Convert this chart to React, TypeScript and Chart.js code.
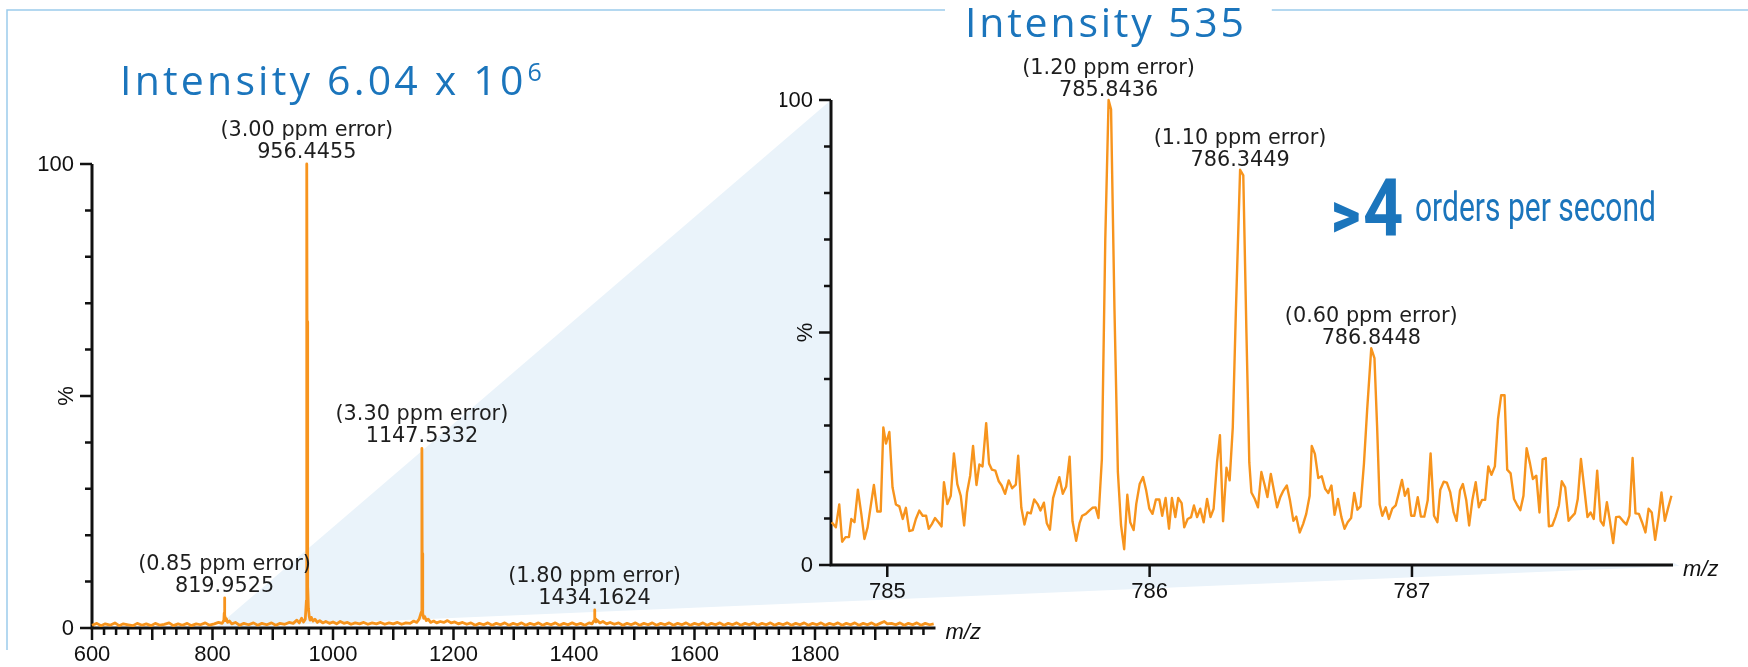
import React, { useEffect, useRef } from "react";
import { Chart, registerables } from "chart.js";

Chart.register(...registerables);

// ---- Full-scan spectrum: m/z and relative intensity (%) ----
const fullMz = [
  600, 608, 615, 622, 630, 638, 645, 652, 660, 668, 675, 683, 690, 698, 705, 713, 720, 728, 735, 743,
  750, 758, 765, 773, 780, 788, 795, 803, 810, 816, 818.9, 819.45, 819.9525, 820.45, 820.95, 821.6, 823, 825, 828, 832,
  838, 845, 852, 860, 868, 875, 882, 890, 898, 905, 912, 920, 927, 934, 940, 944, 948, 951, 954, 955.9,
  956.4455, 956.95, 957.45, 957.95, 958.5, 959.2, 960.5, 962, 964, 967, 970, 974, 978, 983, 988, 994, 1000, 1006, 1012, 1018,
  1024, 1030, 1037, 1044, 1051, 1058, 1065, 1072, 1079, 1086, 1093, 1100, 1107, 1114, 1121, 1128, 1134, 1139, 1143, 1146.5,
  1147.5332, 1148.03, 1148.54, 1149.3, 1150.5, 1152, 1155, 1158, 1162, 1167, 1172, 1178, 1184, 1190, 1196, 1202, 1208, 1215, 1222, 1229,
  1236, 1243, 1250, 1257, 1264, 1271, 1278, 1285, 1292, 1299, 1306, 1313, 1320, 1327, 1334, 1341, 1348, 1355, 1362, 1369,
  1376, 1383, 1390, 1397, 1404, 1411, 1418, 1425, 1430, 1433.3, 1434.1624, 1434.7, 1435.3, 1436.5, 1439, 1443, 1448, 1454, 1460, 1467,
  1474, 1481, 1488, 1495, 1502, 1509, 1516, 1523, 1530, 1537, 1544, 1551, 1558, 1565, 1572, 1579, 1586, 1593, 1600, 1607,
  1614, 1621, 1628, 1635, 1642, 1649, 1656, 1663, 1670, 1677, 1684, 1691, 1698, 1705, 1712, 1719, 1726, 1733, 1740, 1747,
  1754, 1761, 1768, 1775, 1782, 1789, 1796, 1803, 1810, 1817, 1824, 1831, 1838, 1845, 1852, 1859, 1866, 1873, 1880, 1887,
  1894, 1901, 1908, 1915, 1920, 1927, 1934, 1941, 1948, 1955, 1962, 1969, 1976, 1983, 1990, 1997,
];
const fullIntensity = [
  0.6, 1.0, 0.5, 0.9, 0.6, 1.1, 0.5, 0.9, 0.7, 0.5, 1.0, 0.6, 0.9, 0.5, 1.0, 0.6, 0.8, 1.1, 0.5, 0.9,
  0.6, 1.0, 0.5, 0.9, 0.7, 1.1, 0.6, 0.9, 1.2, 1.0, 1.7, 3.2, 6.5, 2.8, 2.2, 1.6, 2.0, 1.2, 1.5, 0.9,
  1.2, 0.6, 1.0, 0.7, 1.1, 0.6, 1.0, 0.7, 1.1, 0.6, 1.0, 0.8, 1.2, 1.0, 1.7, 1.1, 2.1, 1.3, 1.9, 6.0,
  100, 66, 44, 22, 9, 4.2, 2.5, 1.7, 2.3, 1.5, 1.9, 1.2, 1.6, 1.1, 1.4, 1.0, 1.3, 0.9, 1.4, 1.0,
  1.2, 0.8, 1.1, 0.9, 1.2, 0.8, 1.1, 0.9, 1.2, 0.8, 1.1, 0.9, 1.2, 0.8, 1.1, 1.0, 1.5, 1.2, 1.9, 3.4,
  38.7, 16.0, 6.5, 3.2, 2.1, 2.5, 1.6, 1.9, 1.2, 1.5, 1.1, 1.4, 1.2, 1.6, 1.1, 1.3, 0.9, 1.2, 0.8, 1.1,
  0.6, 1.0, 0.7, 1.1, 0.6, 1.0, 0.7, 1.1, 0.6, 1.0, 0.7, 1.1, 0.6, 1.0, 0.7, 1.1, 0.6, 1.0, 0.7, 1.1,
  0.6, 1.0, 0.7, 1.1, 0.7, 1.0, 0.6, 1.1, 0.9, 1.6, 3.9, 2.3, 1.9, 1.3, 1.6, 1.1, 1.4, 0.9, 1.2, 0.8,
  1.1, 0.6, 1.0, 0.7, 1.1, 0.6, 1.0, 0.7, 1.1, 0.6, 1.0, 0.7, 1.1, 0.6, 1.0, 0.7, 1.1, 0.6, 1.0, 0.7,
  1.1, 0.6, 1.0, 0.7, 1.1, 0.6, 1.0, 0.7, 1.1, 0.6, 1.0, 0.7, 1.1, 0.6, 1.0, 0.7, 1.1, 0.6, 1.0, 0.7,
  1.1, 0.6, 1.0, 0.7, 1.1, 0.6, 1.0, 0.7, 1.1, 0.6, 1.0, 0.7, 1.1, 0.6, 1.0, 0.7, 1.1, 0.6, 1.0, 0.7,
  1.1, 0.6, 1.0, 1.4, 0.9, 1.0, 0.7, 1.1, 0.6, 1.0, 0.7, 1.1, 0.6, 1.0, 0.7, 0.9,
];

// ---- Zoomed spectrum around m/z 785-788 ----
const zoomMz = [
  784.788, 784.804, 784.817, 784.828, 784.841, 784.854, 784.863, 784.875, 784.888, 784.901,
  784.913, 784.925, 784.938, 784.949, 784.962, 784.975, 784.985, 784.995, 785.008, 785.02,
  785.033, 785.046, 785.059, 785.071, 785.084, 785.097, 785.109, 785.122, 785.135, 785.148,
  785.158, 785.17, 785.182, 785.195, 785.207, 785.216, 785.229, 785.242, 785.254, 785.267,
  785.28, 785.293, 785.304, 785.316, 785.327, 785.34, 785.351, 785.363, 785.377, 785.388,
  785.399, 785.412, 785.425, 785.436, 785.449, 785.463, 785.476, 785.49, 785.499, 785.511,
  785.523, 785.534, 785.547, 785.56, 785.573, 785.584, 785.597, 785.608, 785.62, 785.632,
  785.645, 785.656, 785.669, 785.682, 785.695, 785.706, 785.72, 785.733, 785.743, 785.757,
  785.77, 785.782, 785.794, 785.805, 785.818, 785.831, 785.8436, 785.853, 785.866, 785.879,
  785.891, 785.903, 785.915, 785.926, 785.939, 785.949, 785.962, 785.975, 785.987, 785.999,
  786.011, 786.024, 786.037, 786.048, 786.061, 786.074, 786.085, 786.098, 786.109, 786.122,
  786.132, 786.145, 786.158, 786.169, 786.181, 786.193, 786.206, 786.219, 786.232, 786.244,
  786.257, 786.268, 786.28, 786.293, 786.305, 786.317, 786.329, 786.3449, 786.357, 786.369,
  786.38, 786.388, 786.401, 786.413, 786.426, 786.439, 786.449, 786.462, 786.474, 786.486,
  786.498, 786.51, 786.523, 786.535, 786.548, 786.559, 786.572, 786.585, 786.597, 786.61,
  786.618, 786.63, 786.643, 786.656, 786.669, 786.681, 786.693, 786.705, 786.718, 786.731,
  786.743, 786.755, 786.768, 786.78, 786.792, 786.804, 786.817, 786.829, 786.8448, 786.857,
  786.867, 786.877, 786.887, 786.9, 786.912, 786.925, 786.938, 786.949, 786.962, 786.973,
  786.985, 786.997, 787.009, 787.022, 787.034, 787.047, 787.06, 787.071, 787.084, 787.097,
  787.108, 787.121, 787.133, 787.146, 787.159, 787.17, 787.183, 787.194, 787.207, 787.218,
  787.23, 787.243, 787.255, 787.267, 787.279, 787.291, 787.303, 787.316, 787.328, 787.34,
  787.353, 787.363, 787.376, 787.389, 787.4, 787.413, 787.425, 787.437, 787.45, 787.461,
  787.474, 787.486, 787.498, 787.51, 787.522, 787.535, 787.547, 787.56, 787.571, 787.584,
  787.597, 787.608, 787.621, 787.632, 787.644, 787.657, 787.669, 787.681, 787.693, 787.706,
  787.719, 787.73, 787.743, 787.754, 787.767, 787.778, 787.791, 787.804, 787.817, 787.829,
  787.841, 787.852, 787.865, 787.877, 787.89, 787.902, 787.914, 787.927, 787.94, 787.951,
  787.964, 787.977, 787.989,
];
const zoomIntensity = [
  9.2, 8.1, 13.0, 5.0, 6.0, 6.0, 9.9, 9.2, 16.2, 11.0,
  5.6, 8.1, 13.1, 17.2, 11.5, 11.5, 29.6, 26.1, 28.6, 16.7,
  13.0, 12.6, 9.9, 12.3, 7.3, 7.5, 9.9, 11.7, 10.6, 10.6,
  7.8, 8.8, 10.1, 9.2, 8.3, 17.8, 13.1, 14.9, 24.0, 17.4,
  14.9, 8.5, 15.6, 19.2, 25.6, 17.2, 21.6, 21.2, 30.5, 21.8,
  20.5, 20.3, 18.0, 17.1, 15.3, 18.2, 16.5, 17.3, 23.5, 12.3,
  8.7, 11.3, 11.1, 14.1, 13.1, 11.7, 13.4, 9.0, 7.6, 14.4,
  16.9, 18.9, 15.3, 16.9, 23.3, 9.4, 5.2, 9.0, 10.6, 11.0,
  11.7, 12.3, 12.4, 10.1, 22.8, 70, 100, 98, 55, 20,
  8.6, 3.4, 15.1, 9.2, 7.5, 13.1, 17.4, 18.9, 16.0, 12.1,
  11.0, 14.1, 14.1, 10.6, 14.4, 7.8, 14.4, 10.3, 14.4, 13.3,
  8.1, 9.9, 10.3, 12.8, 10.3, 12.1, 9.2, 14.2, 10.3, 12.1,
  22.1, 27.9, 9.4, 20.9, 18.2, 29.6, 55, 85, 83.8, 50,
  22, 15.6, 14.2, 12.4, 20.0, 17.1, 14.6, 19.6, 16.0, 12.4,
  14.6, 16.0, 17.1, 13.9, 9.5, 10.4, 7.0, 8.8, 11.0, 14.9,
  25.6, 23.9, 18.7, 19.1, 16.4, 15.5, 17.1, 10.8, 14.2, 10.3,
  7.8, 9.2, 10.1, 15.5, 11.9, 12.6, 21.8, 33.2, 46.6, 44.5,
  30, 13, 10.6, 12.4, 9.9, 12.1, 12.8, 15.3, 18.3, 14.9,
  16.4, 10.6, 10.6, 14.6, 10.4, 10.4, 13.9, 24.0, 10.6, 9.2,
  16.2, 17.9, 17.7, 15.6, 11.3, 9.5, 16.0, 17.4, 13.9, 8.5,
  13.9, 17.8, 12.4, 14.0, 14.0, 21.2, 19.4, 21.2, 31.4, 36.5,
  36.5, 20.5, 19.7, 14.2, 13.0, 11.8, 14.9, 25.1, 21.8, 18.5,
  19.2, 11.3, 22.7, 23.0, 8.3, 8.5, 10.3, 12.8, 18.0, 16.7,
  9.5, 10.3, 11.1, 14.2, 22.8, 16.4, 10.3, 11.3, 9.9, 20.3,
  9.5, 8.5, 13.5, 9.7, 4.7, 10.3, 10.4, 9.5, 8.7, 10.6,
  23.0, 11.1, 11.0, 9.2, 7.0, 12.1, 11.3, 5.4, 10.3, 15.6,
  9.5, 12.4, 14.9,
];

// ---- Annotated peaks ----
const fullPeakMz = [819.9525, 956.4455, 1147.5332, 1434.1624];
const fullPeakIntensity = [6.5, 100, 38.7, 3.9];
const fullPeakError = ["0.85", "3.00", "3.30", "1.80"];

const zoomPeakMz = [785.8436, 786.3449, 786.8448];
const zoomPeakIntensity = [100, 85, 46.6];
const zoomPeakError = ["1.20", "1.10", "0.60"];

// ---- Axis ticks ----
const fullXTickLabels = [600, 800, 1000, 1200, 1400, 1600, 1800];
const zoomXTickLabels = [785, 786, 787];
const yTickLabels = [0, 100];

const ORANGE = "#F7941D";
const BLUE = "#1B75BC";
const FRAME = "#9CCBEB";
const WEDGE = "#EAF3FA";
const INK = "#111111";

const LEFT_CANVAS_X = 0;
const RIGHT_CANVAS_X = 780;

const TICK_FONT = "22px 'Liberation Sans', Arial, sans-serif";
const AXIS_TITLE_FONT = "italic 22px 'Liberation Sans', Arial, sans-serif";
const PEAK_FONT = "20.8px 'DejaVu Sans', Verdana, sans-serif";

type AxesOpts = {
  xMinorStep: number | null;
  xMajorStep: number | null;
  xMin: number;
  xMax: number;
  xTickLabels: number[];
  peakMz: number[];
  peakIntensity: number[];
  peakError: string[];
  peakGap: number;
  plotFill: string | null;
};

// Draws the axes, ticks and peak annotations on top of the hidden Chart.js scales.
const spectrumAxes = {
  id: "spectrumAxes",
  beforeDraw(chart: any, _args: any, opts: AxesOpts) {
    if (!opts.plotFill) return;
    const { ctx, chartArea: a } = chart;
    ctx.save();
    ctx.fillStyle = opts.plotFill;
    ctx.fillRect(a.left, a.top, a.right - a.left, a.bottom - a.top);
    ctx.restore();
  },
  beforeDatasetsDraw(chart: any, _args: any, opts: AxesOpts) {
    const { ctx, chartArea: a } = chart;
    const xs = chart.scales.x;
    const ys = chart.scales.y;
    ctx.save();
    ctx.strokeStyle = INK;
    ctx.fillStyle = INK;
    ctx.lineCap = "butt";

    // axis lines
    ctx.lineWidth = 3;
    ctx.beginPath();
    ctx.moveTo(a.left, a.bottom + 1.5);
    ctx.lineTo(a.left, a.top);
    ctx.moveTo(a.left - 1.5, a.bottom);
    ctx.lineTo(a.right, a.bottom);
    ctx.stroke();

    // y ticks: minor every 10 %, long ones at 0, 50, 100
    ctx.lineWidth = 2.5;
    ctx.beginPath();
    for (let v = 0; v <= 100; v += 10) {
      const py = ys.getPixelForValue(v);
      const len = v % 50 === 0 ? 12 : 7;
      ctx.moveTo(a.left, py);
      ctx.lineTo(a.left - len, py);
    }
    ctx.stroke();

    ctx.font = TICK_FONT;
    ctx.textAlign = "right";
    ctx.textBaseline = "middle";
    yTickLabels.forEach((v) => {
      ctx.fillText(String(v), a.left - 18, ys.getPixelForValue(v) + 1);
    });

    // rotated % axis title beside the 50 % tick
    ctx.save();
    ctx.translate(a.left - 25, ys.getPixelForValue(50));
    ctx.rotate(-Math.PI / 2);
    ctx.textAlign = "center";
    ctx.textBaseline = "middle";
    ctx.fillText("%", 0, 0);
    ctx.restore();

    // x ticks
    ctx.beginPath();
    if (opts.xMinorStep && opts.xMajorStep) {
      const start = Math.ceil(opts.xMin / opts.xMinorStep) * opts.xMinorStep;
      for (let v = start; v < opts.xMax - 1e-9; v += opts.xMinorStep) {
        const px = xs.getPixelForValue(v);
        const major = Math.abs(v / opts.xMajorStep - Math.round(v / opts.xMajorStep)) < 1e-6;
        ctx.moveTo(px, a.bottom);
        ctx.lineTo(px, a.bottom + (major ? 12 : 7));
      }
    } else {
      opts.xTickLabels.forEach((v) => {
        const px = xs.getPixelForValue(v);
        ctx.moveTo(px, a.bottom);
        ctx.lineTo(px, a.bottom + 12);
      });
    }
    ctx.stroke();

    ctx.textAlign = "center";
    ctx.textBaseline = "top";
    opts.xTickLabels.forEach((v) => {
      ctx.fillText(String(v), xs.getPixelForValue(v), a.bottom + 16);
    });

    ctx.font = AXIS_TITLE_FONT;
    ctx.textAlign = "left";
    ctx.textBaseline = "middle";
    ctx.fillText("m/z", a.right + 10, a.bottom + 5);
    ctx.restore();
  },
  afterDatasetsDraw(chart: any, _args: any, opts: AxesOpts) {
    const { ctx } = chart;
    const xs = chart.scales.x;
    const ys = chart.scales.y;
    ctx.save();
    ctx.font = PEAK_FONT;
    ctx.fillStyle = "#1e1e1e";
    ctx.textAlign = "center";
    ctx.textBaseline = "alphabetic";
    opts.peakMz.forEach((mz, i) => {
      const px = xs.getPixelForValue(mz);
      const py = ys.getPixelForValue(opts.peakIntensity[i]) - opts.peakGap;
      ctx.fillText(mz.toFixed(4), px, py);
      ctx.fillText(`(${opts.peakError[i]} ppm error)`, px, py - 22);
    });
    ctx.restore();
  },
};

function spectrumConfig(
  mz: number[],
  intensity: number[],
  lineWidth: number,
  padding: { left: number; right: number; top: number; bottom: number },
  axes: AxesOpts
): any {
  return {
    type: "line",
    data: {
      datasets: [
        {
          data: mz.map((m, i) => ({ x: m, y: intensity[i] })),
          borderColor: ORANGE,
          borderWidth: lineWidth,
          borderJoinStyle: "round",
          pointRadius: 0,
          tension: 0,
          fill: false,
          clip: false,
        },
      ],
    },
    options: {
      responsive: false,
      animation: false,
      events: [],
      layout: { padding },
      scales: {
        x: { type: "linear", min: axes.xMin, max: axes.xMax, display: false },
        y: { type: "linear", min: 0, max: 100, display: false },
      },
      plugins: {
        legend: { display: false },
        tooltip: { enabled: false },
        spectrumAxes: axes,
      },
    },
    plugins: [spectrumAxes],
  };
}

// Zoom wedge anchor points (m/z on the full scan, m/z end on the zoom panel)
const WEDGE_FROM_MZ = 805;
const WEDGE_TO_MZ = 788.02;

// Background layer: zoom wedge and the figure frame.
function drawBackdrop(canvas: HTMLCanvasElement, left: any, right: any, gap: [number, number]) {
  const ctx = canvas.getContext("2d")!;
  ctx.clearRect(0, 0, canvas.width, canvas.height);

  const p1x = LEFT_CANVAS_X + left.scales.x.getPixelForValue(WEDGE_FROM_MZ);
  const p1y = left.scales.y.getPixelForValue(0);
  const p2x = RIGHT_CANVAS_X + right.chartArea.left;
  const p2y = right.chartArea.top;
  const p3x = RIGHT_CANVAS_X + right.scales.x.getPixelForValue(WEDGE_TO_MZ);
  const p3y = right.scales.y.getPixelForValue(0) + 1;
  ctx.fillStyle = WEDGE;
  ctx.beginPath();
  ctx.moveTo(p1x, p1y);
  ctx.lineTo(p2x, p2y);
  ctx.lineTo(p3x, p3y);
  ctx.closePath();
  ctx.fill();

  ctx.strokeStyle = FRAME;
  ctx.lineWidth = 1.5;
  ctx.beginPath();
  ctx.moveTo(7, 650);
  ctx.lineTo(7, 10);
  ctx.lineTo(gap[0], 10);
  ctx.moveTo(gap[1], 10);
  ctx.lineTo(canvas.width, 10);
  ctx.stroke();
}

// Top layer: panel titles and the acquisition-rate tagline. Returns the gap for the frame.
function drawTitles(canvas: HTMLCanvasElement): [number, number] {
  const ctx = canvas.getContext("2d")!;
  ctx.clearRect(0, 0, canvas.width, canvas.height);
  ctx.fillStyle = BLUE;
  ctx.textBaseline = "alphabetic";
  ctx.textAlign = "left";

  (ctx as any).letterSpacing = "3.2px";
  ctx.font = "41px 'Open Sans', sans-serif";
  const leftTitle = "Intensity 6.04 x 10";
  ctx.fillText(leftTitle, 120, 95);
  const lw = ctx.measureText(leftTitle).width;
  ctx.font = "25px 'Open Sans', sans-serif";
  ctx.fillText("6", 120 + lw + 1, 81);

  (ctx as any).letterSpacing = "2.8px";
  ctx.font = "41px 'Open Sans', sans-serif";
  const rightTitle = "Intensity 535";
  const rx = 965;
  ctx.fillText(rightTitle, rx, 37);
  const rw = ctx.measureText(rightTitle).width;
  (ctx as any).letterSpacing = "0px";

  ctx.save();
  ctx.translate(1331, 236);
  ctx.scale(0.95, 1.05);
  ctx.font = "900 60px Roboto, sans-serif";
  ctx.fillText(">", 0, 0);
  ctx.restore();

  ctx.save();
  ctx.translate(1363, 235);
  ctx.scale(0.88, 1);
  ctx.font = "700 80px Roboto, sans-serif";
  ctx.fillText("4", 0, 0);
  ctx.restore();

  ctx.save();
  ctx.translate(1415, 221);
  ctx.scale(0.75, 1);
  ctx.font = "400 40px Roboto, sans-serif";
  ctx.fillText("orders per second", 0, 0);
  ctx.restore();

  return [rx - 20, rx + rw + 25];
}

export default function App() {
  const bgRef = useRef<HTMLCanvasElement>(null);
  const leftRef = useRef<HTMLCanvasElement>(null);
  const rightRef = useRef<HTMLCanvasElement>(null);
  const topRef = useRef<HTMLCanvasElement>(null);

  useEffect(() => {
    const left = new Chart(
      leftRef.current!,
      spectrumConfig(fullMz, fullIntensity, 2.8, { left: 92, right: 64.5, top: 164, bottom: 39 }, {
        xMinorStep: 20,
        xMajorStep: 100,
        xMin: 600,
        xMax: 2000,
        xTickLabels: fullXTickLabels,
        peakMz: fullPeakMz,
        peakIntensity: fullPeakIntensity,
        peakError: fullPeakError,
        peakGap: 6,
        plotFill: null,
      })
    );
    const right = new Chart(
      rightRef.current!,
      spectrumConfig(zoomMz, zoomIntensity, 2.4, { left: 51, right: 75, top: 100, bottom: 102 }, {
        xMinorStep: null,
        xMajorStep: null,
        xMin: 784.7855,
        xMax: 787.995,
        xTickLabels: zoomXTickLabels,
        peakMz: zoomPeakMz,
        peakIntensity: zoomPeakIntensity,
        peakError: zoomPeakError,
        peakGap: 4,
        plotFill: "#ffffff",
      })
    );
    const gap = drawTitles(topRef.current!);
    drawBackdrop(bgRef.current!, left, right, gap);
    return () => {
      left.destroy();
      right.destroy();
    };
  }, []);

  const abs = (x: number, w: number): React.CSSProperties => ({
    position: "absolute",
    left: x,
    top: 0,
    width: w,
    height: 667,
  });

  return (
    <div style={{ position: "absolute", left: 0, top: 0, width: 1748, height: 667, background: "#ffffff", overflow: "hidden" }}>
      <canvas ref={bgRef} width={1748} height={667} style={abs(0, 1748)} />
      <canvas ref={leftRef} width={1000} height={667} style={abs(LEFT_CANVAS_X, 1000)} />
      <canvas ref={rightRef} width={968} height={667} style={abs(RIGHT_CANVAS_X, 968)} />
      <canvas ref={topRef} width={1748} height={667} style={{ ...abs(0, 1748), pointerEvents: "none" }} />
    </div>
  );
}
